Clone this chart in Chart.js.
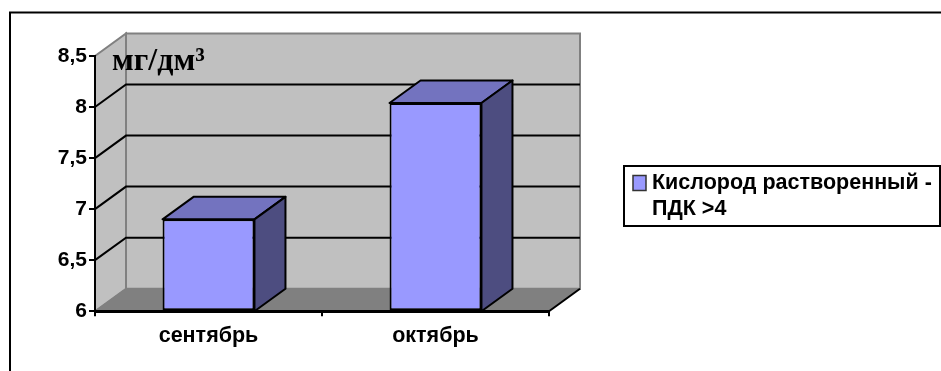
<!DOCTYPE html>
<html>
<head>
<meta charset="utf-8">
<title>Кислород растворенный</title>
<script src="https://cdn.jsdelivr.net/npm/chart.js@4"></script>
<style>
  html, body { margin: 0; padding: 0; background: #fff; overflow: hidden; }
  canvas { display: block; }
</style>
</head>
<body>
<canvas id="chart" width="941" height="371"></canvas>
<script>
const categories = ['сентябрь', 'октябрь'];
const oxygenValues = [6.9, 8.04];
const seriesLabel = ['Кислород растворенный -', 'ПДК >4'];
const unitLabel = 'мг/дм³';
const axisMin = 6;
const axisMax = 8.5;
const axisStep = 0.5;

// depth of the pseudo-3D box, in pixels
const DEPTH_X = 31;
const DEPTH_Y = 22.5;

function poly(ctx, pts, fill, stroke, width) {
    ctx.beginPath();
    pts.forEach((p, i) => i ? ctx.lineTo(p[0], p[1]) : ctx.moveTo(p[0], p[1]));
    ctx.closePath();
    if (fill) { ctx.fillStyle = fill; ctx.fill(); }
    if (stroke) { ctx.strokeStyle = stroke; ctx.lineWidth = width; ctx.stroke(); }
}

// back wall, side wall, floor and the gridlines that run over them
const boxPlugin = {
    id: 'box',
    beforeDraw(chart) {
        const { ctx, chartArea: a, scales: { y } } = chart;
        ctx.save();
        ctx.lineJoin = 'miter';
        poly(ctx, [[a.left + DEPTH_X, a.top - DEPTH_Y], [a.right + DEPTH_X, a.top - DEPTH_Y],
                   [a.right + DEPTH_X, a.bottom - DEPTH_Y], [a.left + DEPTH_X, a.bottom - DEPTH_Y]],
             '#c0c0c0', '#808080', 2);
        poly(ctx, [[a.left, a.top], [a.left + DEPTH_X, a.top - DEPTH_Y],
                   [a.left + DEPTH_X, a.bottom - DEPTH_Y], [a.left, a.bottom]],
             '#c0c0c0', '#808080', 2);
        poly(ctx, [[a.left, a.bottom], [a.left + DEPTH_X, a.bottom - DEPTH_Y],
                   [a.right + DEPTH_X, a.bottom - DEPTH_Y], [a.right, a.bottom]],
             '#808080', '#808080', 1);

        ctx.strokeStyle = '#000';
        ctx.lineWidth = 2;
        y.ticks.forEach(t => {
            if (t.value <= axisMin || t.value >= axisMax) return;
            const py = y.getPixelForValue(t.value);
            ctx.beginPath();
            ctx.moveTo(a.left, py);
            ctx.lineTo(a.left + DEPTH_X, py - DEPTH_Y);
            ctx.lineTo(a.right + DEPTH_X, py - DEPTH_Y);
            ctx.stroke();
        });
        // right end of the floor's front edge
        ctx.beginPath();
        ctx.moveTo(a.right, a.bottom);
        ctx.lineTo(a.right + DEPTH_X, a.bottom - DEPTH_Y);
        ctx.stroke();
        ctx.restore();
    },
    // top and side faces of each bar
    beforeDatasetsDraw(chart) {
        const { ctx, chartArea: a } = chart;
        ctx.save();
        ctx.lineJoin = 'round';
        chart.getDatasetMeta(0).data.forEach(bar => {
            const { x, y, width } = bar.getProps(['x', 'y', 'width']);
            const l = x - width / 2, r = x + width / 2;
            poly(ctx, [[l, y], [l + DEPTH_X, y - DEPTH_Y], [r + DEPTH_X, y - DEPTH_Y], [r, y]],
                 '#7373bf', '#000', 2);
            poly(ctx, [[r, y], [r + DEPTH_X, y - DEPTH_Y], [r + DEPTH_X, a.bottom - DEPTH_Y], [r, a.bottom]],
                 '#4d4d80', '#000', 2);
        });
        ctx.restore();
    },
    // frame, unit caption and legend box
    afterDraw(chart) {
        const { ctx } = chart;
        ctx.save();
        ctx.strokeStyle = '#000';
        ctx.lineWidth = 2;
        ctx.beginPath();
        ctx.moveTo(10, 371);
        ctx.lineTo(10, 12.5);
        ctx.lineTo(941, 12.5);
        ctx.stroke();

        ctx.fillStyle = '#000';
        ctx.textBaseline = 'alphabetic';
        ctx.textAlign = 'left';
        ctx.font = 'bold 32px "Liberation Serif"';
        ctx.fillText(unitLabel, 112, 70);

        ctx.fillStyle = '#fff';
        ctx.fillRect(624, 166, 316, 60);
        ctx.strokeRect(624, 166, 316, 60);
        ctx.lineWidth = 1.5;
        ctx.fillStyle = '#9999ff';
        ctx.fillRect(633, 175.5, 13, 15);
        ctx.strokeStyle = '#333';
        ctx.strokeRect(633, 175.5, 13, 15);
        ctx.fillStyle = '#000';
        ctx.font = 'bold 21.5px "Liberation Sans"';
        ctx.fillText(seriesLabel[0], 652, 189);
        ctx.fillText(seriesLabel[1], 652, 215);
        ctx.restore();
    }
};

new Chart(document.getElementById('chart'), {
    type: 'bar',
    data: {
        labels: categories,
        datasets: [{
            label: seriesLabel.join(' '),
            data: oxygenValues,
            base: axisMin,
            backgroundColor: '#9999ff',
            borderColor: '#000',
            borderWidth: 2,
            borderSkipped: false,
            categoryPercentage: 1,
            barPercentage: 0.405
        }]
    },
    options: {
        responsive: false,
        animation: false,
        layout: { padding: { left: 0, top: 56, right: 392, bottom: 15 } },
        plugins: { legend: { display: false }, title: { display: false }, tooltip: { enabled: false } },
        scales: {
            x: {
                grid: { drawOnChartArea: false, color: '#000', lineWidth: 2, tickLength: 5, offset: true },
                border: { color: '#000', width: 3 },
                ticks: { color: '#000', font: { family: '"Liberation Sans"', size: 21.5, weight: 'bold' }, padding: 7 }
            },
            y: {
                min: axisMin,
                max: axisMax,
                afterFit(scale) { scale.width = 95; },
                grid: { drawOnChartArea: false, color: '#000', lineWidth: 2, tickLength: 6 },
                border: { color: '#000', width: 2 },
                ticks: {
                    stepSize: axisStep,
                    color: '#000',
                    padding: 2,
                    font: { family: '"Liberation Sans"', size: 21, weight: 'bold' },
                    callback: v => String(v).replace('.', ',')
                }
            }
        }
    },
    plugins: [boxPlugin]
});
</script>
</body>
</html>
